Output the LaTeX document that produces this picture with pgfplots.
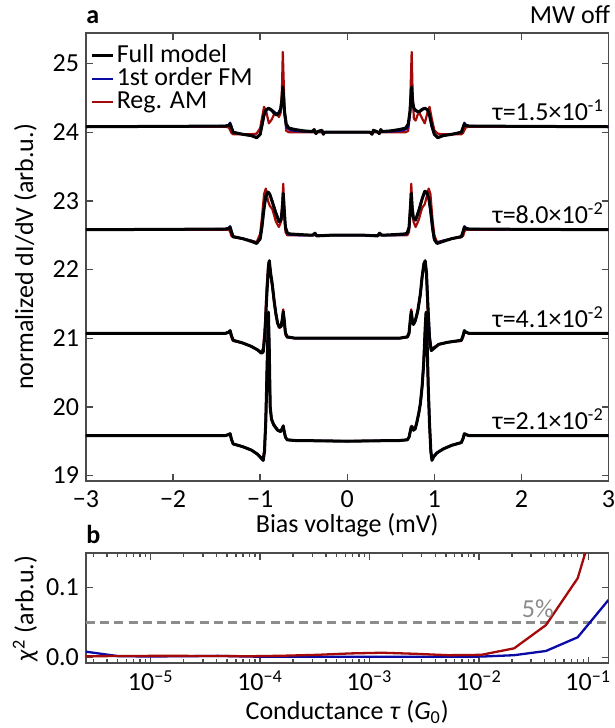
\documentclass[border=0pt]{standalone}
\usepackage{fontspec}
\setmainfont{Carlito}
\usepackage{pgfplots}
\usepackage{pgfplotstable}
\pgfplotsset{compat=1.18}
\definecolor{myred}{RGB}{165,10,10}
\definecolor{myblue}{RGB}{10,10,165}
\definecolor{axgray}{RGB}{75,75,75}
\definecolor{dashgray}{RGB}{140,140,140}

\pgfplotstableread{
x full fm am
-3.00 24.08 24.08 24.08
-1.40 24.09 24.09 24.08
-1.36 24.10 24.11 24.07
-1.345 24.12 24.14 24.03
-1.33 24.07 24.08 23.99
-1.31 24.00 24.00 23.97
-1.20 23.97 23.97 23.97
-1.10 23.95 23.95 23.97
-1.04 23.92 23.93 23.98
-1.00 23.97 23.97 24.06
-0.98 24.10 24.08 24.20
-0.955 24.26 24.24 24.37
-0.93 24.33 24.32 24.30
-0.90 24.35 24.34 24.13
-0.87 24.32 24.33 24.18
-0.84 24.28 24.30 24.26
-0.81 24.25 24.27 24.28
-0.785 24.28 24.29 24.22
-0.765 24.34 24.33 24.28
-0.75 24.48 24.44 24.60
-0.74 24.66 24.55 25.17
-0.73 24.50 24.42 24.75
-0.72 24.30 24.25 24.30
-0.70 24.12 24.08 24.02
-0.67 24.06 24.04 24.00
-0.60 24.04 24.02 24.00
-0.50 24.02 24.01 24.00
-0.40 24.01 24.01 24.00
-0.38 24.04 24.02 24.00
-0.36 23.98 23.99 24.00
-0.34 24.01 24.01 24.00
-0.29 24.03 24.01 24.00
-0.275 23.97 23.99 24.00
-0.26 24.00 24.00 24.00
-0.15 24.00 24.00 24.00
0.00 24.00 24.00 24.00
0.15 24.00 24.00 24.00
0.26 24.00 24.00 24.00
0.285 23.97 23.99 24.00
0.30 24.03 24.01 24.00
0.34 24.01 24.01 24.00
0.37 23.98 23.99 24.00
0.385 24.04 24.02 24.00
0.40 24.01 24.01 24.00
0.50 24.02 24.01 24.00
0.60 24.04 24.02 24.00
0.67 24.06 24.04 24.00
0.70 24.12 24.08 24.02
0.72 24.30 24.25 24.30
0.73 24.50 24.42 24.75
0.74 24.66 24.55 25.17
0.75 24.45 24.42 24.60
0.765 24.35 24.33 24.20
0.785 24.32 24.31 24.17
0.81 24.30 24.30 24.26
0.83 24.30 24.31 24.28
0.86 24.33 24.34 24.20
0.89 24.35 24.35 24.13
0.92 24.33 24.33 24.28
0.945 24.25 24.24 24.37
0.97 24.10 24.08 24.20
1.00 23.97 23.97 24.03
1.04 23.92 23.93 23.98
1.10 23.95 23.95 23.97
1.20 23.97 23.97 23.97
1.31 24.00 24.00 23.97
1.33 24.07 24.08 23.99
1.345 24.12 24.14 24.03
1.36 24.10 24.11 24.07
1.40 24.09 24.09 24.08
3.00 24.08 24.08 24.08
}\tone

\pgfplotstableread{
x full fm am
-3.00 22.58 22.58 22.58
-1.40 22.59 22.59 22.58
-1.36 22.60 22.61 22.58
-1.345 22.62 22.63 22.55
-1.33 22.55 22.56 22.49
-1.31 22.48 22.48 22.47
-1.20 22.45 22.45 22.45
-1.10 22.41 22.42 22.42
-1.04 22.38 22.39 22.40
-1.00 22.45 22.44 22.52
-0.98 22.62 22.60 22.75
-0.955 22.90 22.88 23.10
-0.935 23.07 23.05 23.18
-0.91 23.13 23.12 23.00
-0.89 23.10 23.10 22.93
-0.86 22.98 23.00 22.88
-0.82 22.82 22.84 22.70
-0.785 22.70 22.72 22.62
-0.76 22.72 22.73 22.70
-0.745 22.90 22.85 23.00
-0.735 23.11 23.02 23.25
-0.725 22.90 22.85 22.95
-0.71 22.62 22.60 22.55
-0.69 22.54 22.53 22.50
-0.67 22.52 22.51 22.50
-0.55 22.51 22.50 22.50
-0.40 22.50 22.50 22.50
-0.37 22.53 22.51 22.50
-0.35 22.49 22.50 22.50
-0.20 22.50 22.50 22.50
0.00 22.50 22.50 22.50
0.20 22.50 22.50 22.50
0.35 22.49 22.50 22.50
0.37 22.53 22.51 22.50
0.40 22.50 22.50 22.50
0.55 22.51 22.50 22.50
0.67 22.52 22.51 22.50
0.69 22.54 22.53 22.50
0.71 22.62 22.60 22.55
0.725 22.90 22.85 22.95
0.735 23.11 23.02 23.25
0.745 22.90 22.85 23.00
0.76 22.75 22.74 22.70
0.785 22.72 22.73 22.62
0.82 22.85 22.86 22.72
0.86 23.03 23.03 22.90
0.89 23.14 23.12 22.95
0.91 23.13 23.12 23.05
0.935 23.05 23.04 23.18
0.955 22.88 22.86 23.10
0.98 22.60 22.58 22.72
1.00 22.44 22.43 22.50
1.03 22.38 22.39 22.40
1.10 22.41 22.42 22.42
1.20 22.45 22.45 22.45
1.31 22.48 22.48 22.47
1.33 22.55 22.56 22.49
1.345 22.62 22.63 22.55
1.36 22.60 22.61 22.58
1.40 22.59 22.59 22.58
3.00 22.58 22.58 22.58
}\ttwo

\pgfplotstableread{
x full fm am
-3.00 21.07 21.07 21.07
-1.40 21.07 21.07 21.07
-1.36 21.09 21.09 21.08
-1.345 21.11 21.11 21.08
-1.33 21.04 21.04 21.01
-1.31 20.97 20.97 20.96
-1.20 20.93 20.93 20.93
-1.10 20.88 20.88 20.88
-1.03 20.83 20.83 20.83
-0.985 20.78 20.79 20.80
-0.965 20.80 20.82 20.86
-0.945 21.05 21.10 21.20
-0.925 21.60 21.62 21.75
-0.905 22.05 22.02 22.10
-0.895 22.13 22.10 22.10
-0.88 21.95 21.93 21.90
-0.86 21.78 21.76 21.74
-0.84 21.55 21.55 21.52
-0.82 21.36 21.37 21.34
-0.80 21.22 21.23 21.21
-0.78 21.16 21.17 21.15
-0.76 21.17 21.17 21.17
-0.745 21.28 21.27 21.30
-0.735 21.39 21.36 21.42
-0.725 21.28 21.26 21.28
-0.71 21.08 21.07 21.05
-0.69 21.02 21.02 21.01
-0.60 21.00 21.00 21.00
0.00 21.00 21.00 21.00
0.60 21.00 21.00 21.00
0.69 21.02 21.02 21.01
0.71 21.08 21.07 21.05
0.725 21.28 21.26 21.28
0.735 21.39 21.36 21.42
0.745 21.28 21.27 21.30
0.76 21.20 21.20 21.20
0.78 21.25 21.25 21.24
0.81 21.40 21.40 21.38
0.84 21.65 21.64 21.62
0.86 21.90 21.88 21.90
0.88 22.08 22.05 22.10
0.895 22.13 22.10 22.10
0.91 21.95 21.96 21.85
0.925 21.50 21.55 21.35
0.945 21.00 21.05 20.92
0.965 20.82 20.84 20.82
0.985 20.84 20.85 20.86
1.05 20.91 20.91 20.91
1.15 20.94 20.94 20.94
1.31 20.97 20.97 20.96
1.33 21.04 21.04 21.01
1.345 21.11 21.11 21.08
1.36 21.09 21.09 21.08
1.40 21.07 21.07 21.07
3.00 21.07 21.07 21.07
}\tthree

\pgfplotstableread{
x full fm am
-3.00 19.58 19.58 19.58
-1.40 19.58 19.58 19.58
-1.36 19.60 19.60 19.59
-1.345 19.61 19.61 19.60
-1.33 19.53 19.53 19.52
-1.31 19.46 19.46 19.46
-1.20 19.42 19.42 19.42
-1.10 19.37 19.37 19.37
-1.03 19.31 19.31 19.31
-0.985 19.25 19.24 19.26
-0.965 19.22 19.22 19.24
-0.95 19.35 19.38 19.42
-0.935 19.80 19.83 19.90
-0.92 20.60 20.60 20.70
-0.905 21.38 21.35 21.38
-0.895 20.80 20.82 20.75
-0.885 20.00 20.02 19.98
-0.87 19.82 19.83 19.81
-0.845 19.74 19.75 19.73
-0.80 19.66 19.67 19.66
-0.765 19.64 19.64 19.64
-0.745 19.69 19.69 19.70
-0.735 19.72 19.71 19.73
-0.725 19.65 19.65 19.65
-0.71 19.56 19.56 19.56
-0.69 19.52 19.52 19.52
-0.60 19.51 19.51 19.51
0.00 19.50 19.50 19.50
0.60 19.51 19.51 19.51
0.69 19.52 19.52 19.52
0.71 19.56 19.56 19.56
0.725 19.65 19.65 19.65
0.735 19.71 19.70 19.72
0.745 19.71 19.70 19.72
0.76 19.66 19.66 19.66
0.78 19.68 19.68 19.68
0.80 19.78 19.78 19.77
0.82 19.90 19.90 19.89
0.84 20.05 20.05 20.04
0.86 20.30 20.30 20.30
0.878 20.64 20.62 20.66
0.895 21.15 21.12 21.15
0.905 21.38 21.35 21.36
0.918 20.90 20.92 20.85
0.93 20.30 20.33 20.25
0.945 19.75 19.78 19.72
0.96 19.35 19.38 19.34
0.973 19.22 19.23 19.23
0.99 19.27 19.26 19.28
1.03 19.33 19.33 19.33
1.107 19.39 19.39 19.39
1.20 19.44 19.44 19.44
1.31 19.48 19.48 19.48
1.33 19.54 19.54 19.53
1.345 19.61 19.61 19.60
1.36 19.60 19.60 19.59
1.40 19.58 19.58 19.58
3.00 19.58 19.58 19.58
}\tfour

\pgfplotsset{
  common/.style={
    scale only axis, width=261.25pt,
    tick align=inside, tick pos=both,
    axis line style={draw=axgray,line width=0.9pt},
    every tick/.append style={draw=axgray,line width=0.7pt},
    major tick length=3.4pt, minor tick length=2pt,
    /pgf/number format/assume math mode=true,
  },
  blk/.style={black,line width=1.5pt,line join=round,forget plot},
  blu/.style={myblue,line width=1.1pt,line join=round,forget plot},
  rd/.style={myred,line width=1.1pt,line join=round,forget plot},
}

\begin{document}
\begin{tikzpicture}[font=\fontsize{13}{15.6}\selectfont]
\useasboundingbox (-43pt,16.35pt) rectangle (264.5pt,-347.65pt);
\begin{axis}[common, name=pa, at={(0pt,0pt)}, anchor=north west,
  height=224.15pt,
  xmin=-3, xmax=3, ymin=18.92, ymax=25.45,
  xtick={-3,-2,-1,0,1,2,3}, xticklabels={−3,−2,−1,0,1,2,3},
  ytick={19,20,21,22,23,24,25},
  xticklabel style={yshift=-1.5pt},
  xlabel={Bias voltage (mV)}, ylabel={normalized dI/dV (arb.u.)},
  every axis x label/.style={at={(axis description cs:0.5,-0.098)},anchor=center},
  every axis y label/.style={at={(axis description cs:-0.116,0.5)},anchor=center,rotate=90},
  legend style={at={(axis description cs:0.008,0.975)}, anchor=north west, draw=none, fill=none,
     inner sep=0pt, row sep=0pt, column sep=1pt,
     nodes={inner sep=0.1pt, text height=9pt, text depth=2.4pt}},
  legend cell align=left,
  legend image code/.code={\draw[#1] (0pt,0pt) -- (10.5pt,0pt);},
]
\addlegendimage{black,line width=1.5pt}\addlegendentry{Full model}
\addlegendimage{myblue,line width=1.1pt}\addlegendentry{1st order FM}
\addlegendimage{myred,line width=1.1pt}\addlegendentry{Reg. AM}

\addplot[rd] table[x=x,y=am]{\tone};
\addplot[blu] table[x=x,y=fm]{\tone};
\addplot[blk] table[x=x,y=full]{\tone};
\addplot[rd] table[x=x,y=am]{\ttwo};
\addplot[blu] table[x=x,y=fm]{\ttwo};
\addplot[blk] table[x=x,y=full]{\ttwo};
\addplot[rd] table[x=x,y=am]{\tthree};
\addplot[blu] table[x=x,y=fm]{\tthree};
\addplot[blk] table[x=x,y=full]{\tthree};
\addplot[rd] table[x=x,y=am]{\tfour};
\addplot[blu] table[x=x,y=fm]{\tfour};
\addplot[blk] table[x=x,y=full]{\tfour};

\node[anchor=base east,inner sep=0pt] at (axis cs:2.95,24.17) {τ=1.5×10\textsuperscript{-1}};
\node[anchor=base east,inner sep=0pt] at (axis cs:2.95,22.67) {τ=8.0×10\textsuperscript{-2}};
\node[anchor=base east,inner sep=0pt] at (axis cs:2.95,21.16) {τ=4.1×10\textsuperscript{-2}};
\node[anchor=base east,inner sep=0pt] at (axis cs:2.95,19.67) {τ=2.1×10\textsuperscript{-2}};
\end{axis}

\begin{axis}[common, name=pb, at={(0pt,-260.3pt)}, anchor=north west,
  height=55pt,
  xmode=log, xmin=2.56e-6, xmax=0.153, ymin=-0.0086, ymax=0.1486,
  ytick={0,0.1},
  y tick label style={/pgf/number format/.cd, fixed, fixed zerofill, precision=1, /tikz/.cd},
  xtick={1e-5,1e-4,1e-3,1e-2,1e-1},
  xticklabels={10\textsuperscript{−5},10\textsuperscript{−4},10\textsuperscript{−3},10\textsuperscript{−2},10\textsuperscript{−1}},
  minor xtick={3e-6,4e-6,5e-6,6e-6,7e-6,8e-6,9e-6,2e-5,3e-5,4e-5,5e-5,6e-5,7e-5,8e-5,9e-5,2e-4,3e-4,4e-4,5e-4,6e-4,7e-4,8e-4,9e-4,2e-3,3e-3,4e-3,5e-3,6e-3,7e-3,8e-3,9e-3,2e-2,3e-2,4e-2,5e-2,6e-2,7e-2,8e-2,9e-2},
  xlabel={Conductance \textit{τ} (\textit{G}\textsubscript{0})},
  ylabel={\textit{χ}\textsuperscript{2} (arb.u.)},
  every axis x label/.style={at={(axis description cs:0.5,-0.445)},anchor=center},
  every axis y label/.style={at={(axis description cs:-0.116,0.5)},anchor=center,rotate=90},
]
\addplot[dashgray,line width=1.2pt,dash pattern=on 4.5pt off 2.6pt] coordinates {(2.56e-6,0.05) (0.153,0.05)};
\addplot[myblue,line width=1.15pt] coordinates {
(2.56e-6,0.008) (5.1e-6,0.0015) (1.0e-5,0.0012) (2.1e-5,0.0015) (4.1e-5,0.002) (8.2e-5,0.001)
(1.6e-4,0.0008) (3.3e-4,0.0008) (6.6e-4,0.0008) (1.3e-3,0.0007) (2.6e-3,0.0007) (5.2e-3,0.0008)
(1.05e-2,0.001) (2.1e-2,0.003) (4.1e-2,0.009) (8.0e-2,0.0286) (1.53e-1,0.082)};
\addplot[myred,line width=1.15pt] coordinates {
(2.56e-6,0.0015) (5.1e-6,0.0018) (1.0e-5,0.002) (2.1e-5,0.002) (4.1e-5,0.0018) (8.2e-5,0.0015)
(1.6e-4,0.0022) (3.3e-4,0.0035) (6.6e-4,0.0055) (1.3e-3,0.0065) (2.6e-3,0.005) (5.2e-3,0.003)
(1.05e-2,0.0035) (2.1e-2,0.0128) (4.1e-2,0.046) (8.0e-2,0.113) (1.53e-1,0.26)};
\node[anchor=base,inner sep=0pt,text=dashgray] at (axis cs:0.0346,0.057) {5\%};
\end{axis}

\node[anchor=base west,inner sep=0pt,font=\fontsize{13}{15.6}\selectfont\bfseries] at ([yshift=4.8pt]pa.north west) {a};
\node[anchor=base east,inner sep=0pt] at ([xshift=1pt,yshift=4.6pt]pa.north east) {MW off};
\node[anchor=base west,inner sep=0pt,font=\fontsize{13}{15.6}\selectfont\bfseries] at ([yshift=5pt]pb.north west) {b};
\end{tikzpicture}
\end{document}
